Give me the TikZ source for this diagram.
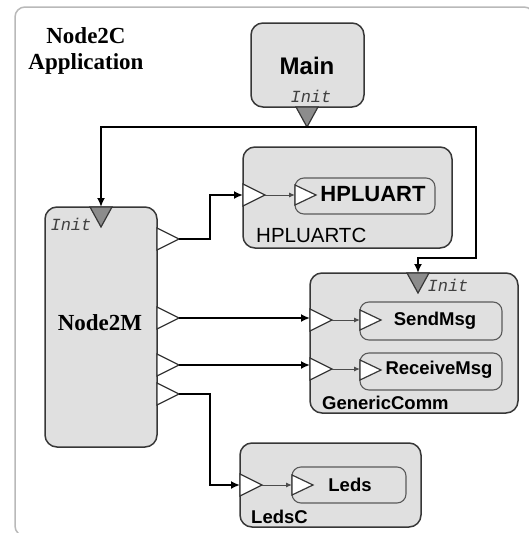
\documentclass[tikz,border=0pt]{standalone}
\usepackage{fontspec}
\newfontfamily\sansf{Liberation Sans}
\newfontfamily\seriff{Liberation Serif}
\newfontfamily\monof{Liberation Mono}
\usetikzlibrary{arrows.meta}
\definecolor{boxfill}{RGB}{224,224,224}
\definecolor{boxline}{RGB}{55,55,55}
\definecolor{innerline}{RGB}{90,90,90}
\definecolor{initfill}{RGB}{140,140,140}
\definecolor{framecol}{RGB}{185,185,185}
\newcommand\rtri[3]{% base x, centre y, name (apex)
  \draw[otri] (#1,{#2-11}) -- ({#1+22},#2) coordinate (#3) -- (#1,{#2+11}) -- cycle;}
\newcommand\itri[3]{% base x, centre y, name (apex) -- inner small
  \draw[otri] (#1,{#2-10}) -- ({#1+21},#2) coordinate (#3) -- (#1,{#2+10}) -- cycle;}
\newcommand\dtri[3]{% centre x, base y, name (apex)
  \draw[gtri] ({#1-11},#2) -- ({#1+11},#2) -- (#1,{#2+20}) coordinate (#3) -- cycle;}
\begin{document}
\begin{tikzpicture}[x=1pt,y=-1pt,
  compbox/.style={draw=boxline, fill=boxfill, line width=1.5pt, rounded corners=12pt, anchor=north west, outer sep=0pt, inner sep=0pt},
  ifacebox/.style={draw=innerline, fill=boxfill, line width=1.1pt, rounded corners=9pt, anchor=north west, outer sep=0pt, inner sep=0pt},
  otri/.style={draw=boxline, fill=white, line width=1.2pt, line join=miter},
  gtri/.style={draw=boxline, fill=initfill, line width=1.2pt, line join=miter},
  wire/.style={draw=black, line width=2pt, -{Latex[length=9pt,width=8pt]}},
  thinwire/.style={draw=black!70, line width=1pt, -{Latex[length=6pt,width=5pt]}},
  ttl/.style={font=\seriff\bfseries\fontsize{23}{23}\selectfont, inner sep=0pt},
  initlbl/.style={font=\monof\itshape\fontsize{17}{17}\selectfont, text=black!75, inner sep=0pt},
  namelbl/.style={font=\sansf\bfseries\fontsize{18.5}{18.5}\selectfont, inner sep=0pt},
  frame/.style={draw=framecol, line width=1.5pt, rounded corners=10pt}
]
\useasboundingbox (0,0) rectangle (529,533);
% outer frame (cropped)
\draw[frame] (40,536) -- (15,536) -- (15,7) -- (534,7) -- (534,40);

% title
\node[ttl] (t1) at (86,36) {Node2C};
\node[ttl] (t2) at (86,64) {Application};

% components
\node[compbox, minimum width=113pt, minimum height=84pt] (main) at (251,23) {};
\node[compbox, minimum width=112pt, minimum height=240pt] (n2m) at (45,207) {};
\node[compbox, minimum width=209pt, minimum height=101pt] (hpc) at (243,147) {};
\node[compbox, minimum width=208pt, minimum height=140pt] (gc) at (310,273) {};
\node[compbox, minimum width=181pt, minimum height=84pt] (ledsc) at (240,443) {};

% interfaces
\node[ifacebox, minimum width=140pt, minimum height=36pt] (hp) at (295,178) {};
\node[ifacebox, minimum width=142pt, minimum height=38pt] (send) at (360,302) {};
\node[ifacebox, minimum width=142pt, minimum height=37pt] (recv) at (360,353) {};
\node[ifacebox, minimum width=114pt, minimum height=36pt] (leds) at (292,467) {};

% init triangles
\dtri{307}{107}{mainI}
\dtri{101}{207}{n2mI}
\dtri{418}{273}{gcI}

% output triangles of Node2M
\rtri{157}{239}{o1}
\rtri{157}{318}{o2}
\rtri{157}{365}{o3}
\rtri{157}{394}{o4}

% input triangles
\rtri{243}{195}{hIn}
\rtri{310}{320}{gIn1}
\rtri{310}{369}{gIn2}
\rtri{240}{485}{lIn}
\itri{295}{195}{hpT}
\itri{360}{320}{sT}
\itri{360}{370}{rT}
\itri{292}{485}{lT}

% connector end points
\coordinate (n2mTop) at (101,207);
\coordinate (gcTop) at (418,273);
\coordinate (busR) at (476,258);
\coordinate (jog1) at (210,239);
\coordinate (jog4) at (210,394);

% wires
\draw[wire] (mainI) -| (n2mTop);
\draw[wire] (mainI) -| (busR) -| (gcTop);
\draw[wire] (o1) -- (jog1) |- (hpc.west |- 0,195);
\draw[wire] (o2) -- (o2 -| gc.west);
\draw[wire] (o3) -- (o3 -| gc.west);
\draw[wire] (o4) -- (jog4) |- (ledsc.west |- 0,485);

\draw[thinwire] (hIn) -- (hIn -| hp.west);
\draw[thinwire] (gIn1) -- (gIn1 -| send.west);
\draw[thinwire] (gIn2) -- (gIn2 -| recv.west);
\draw[thinwire] (lIn) -- (lIn -| leds.west);

% labels
\node[font=\sansf\bfseries\fontsize{24}{24}\selectfont, inner sep=0pt] (mainL) at (307,66) {Main};
\node[initlbl] (mainInit) at (311,96) {Init};
\node[initlbl] (n2mInit) at (71,224) {Init};
\node[initlbl] (gcInit) at (448,285) {Init};
\node[ttl] (n2mL) at (100,323) {Node2M};
\node[font=\sansf\bfseries\fontsize{22}{22}\selectfont, inner sep=0pt] (hpL) at (373,194) {HPLUART};
\node[font=\sansf\fontsize{20.5}{20.5}\selectfont, inner sep=0pt, anchor=west] (hpcL) at (256,235) {HPLUARTC};
\node[namelbl] (sendL) at (435,321) {SendMsg};
\node[namelbl] (recvL) at (439,370) {ReceiveMsg};
\node[namelbl, anchor=west] (gcL) at (322,403) {GenericComm};
\node[namelbl] (ledsL) at (350,485) {Leds};
\node[namelbl, anchor=west] (ledscL) at (251,517) {LedsC};
\end{tikzpicture}
\end{document}
